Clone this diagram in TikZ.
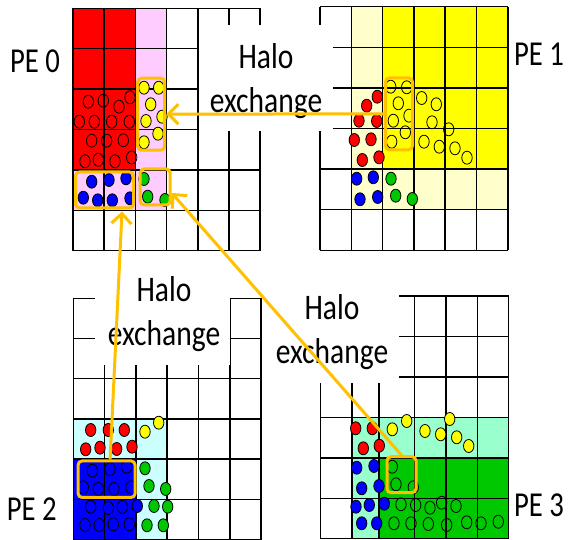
\documentclass[tikz,border=0pt]{standalone}
\usepackage{fontspec}
\setmainfont[FakeStretch=0.82]{Carlito}
\usepackage{tikz}
\usetikzlibrary{arrows.meta}

\definecolor{haloorange}{RGB}{255,192,0}
\definecolor{halopink}{RGB}{255,204,255}
\definecolor{haloyellow}{RGB}{255,255,204}
\definecolor{halocyan}{RGB}{204,255,255}
\definecolor{halomint}{RGB}{153,255,204}
\definecolor{ownred}{RGB}{255,0,0}
\definecolor{ownyellow}{RGB}{255,255,0}
\definecolor{ownblue}{RGB}{0,0,255}
\definecolor{owngreen}{RGB}{0,200,0}

\begin{document}
\begin{tikzpicture}[x=1pt, y=-1pt]
 \tikzstyle{cellline}=[black, line width=1.5pt]
 \tikzstyle{ball}=[draw=black, line width=0.8pt, x radius=5.2pt, y radius=6.5pt]
 \tikzstyle{halobox}=[draw=haloorange, line width=3pt, rounded corners=4pt, inner sep=0pt]
 \tikzstyle{xchg}=[-{Straight Barb[length=10pt, width=20pt]}, haloorange, line width=3pt]
 \tikzstyle{pelabel}=[font=\fontsize{35}{42}\selectfont, anchor=base]
 \tikzstyle{xlabel}=[font=\fontsize{36}{44}\selectfont, align=center]
 \useasboundingbox (0,0) rectangle (568,540);
 %
 % owned cells and halo cells
 \fill[halopink] (135.4,8.3) rectangle (166.6,210.3);
 \fill[halopink] (73,169.9) rectangle (135.4,210.3);
 \fill[ownred] (73,8.3) rectangle (135.4,169.9);
 \fill[haloyellow] (351.3,6.7) rectangle (382.6,209.7);
 \fill[haloyellow] (351.3,169.1) rectangle (507.8,209.7);
 \fill[ownyellow] (382.6,6.7) rectangle (507.8,169.1);
 \fill[halocyan] (73.3,418.9) rectangle (167.2,539.5);
 \fill[ownblue] (73.3,459.1) rectangle (135.9,539.5);
 \fill[halomint] (352,417.5) rectangle (508.6,538.5);
 \fill[owngreen] (379,458) rectangle (508.6,538.5);
 %
 % the four 6x6 grids
 \foreach \gx in {73,104.2,135.4,166.6,197.8,229,260.2} \draw[cellline] (\gx,8.3) -- (\gx,250.7);
 \foreach \gy in {8.3,48.7,89.1,129.5,169.9,210.3,250.7} \draw[cellline] (73,\gy) -- (260.2,\gy);
 \foreach \gx in {320,351.3,382.6,413.9,445.2,476.5,507.8} \draw[cellline] (\gx,6.7) -- (\gx,250.3);
 \foreach \gy in {6.7,47.3,87.9,128.5,169.1,209.7,250.3} \draw[cellline] (320,\gy) -- (507.8,\gy);
 \foreach \gx in {73.3,104.6,135.9,167.2,198.5,229.8,261.1} \draw[cellline] (\gx,298.3) -- (\gx,539.5);
 \foreach \gy in {298.3,338.5,378.7,418.9,459.1,499.3,539.5} \draw[cellline] (73.3,\gy) -- (261.1,\gy);
 \foreach \gx in {320.7,352,379,414.7,446,477.3,508.6} \draw[cellline] (\gx,296) -- (\gx,538.5);
 \foreach \gy in {296,336.5,377,417.5,458,498.3,538.5} \draw[cellline] (320.7,\gy) -- (508.6,\gy);
 %
 % particles of PE 0
 \foreach \x/\y in {88.3/101.7,103.3/100.7,119/106.7,130/97.3,79.3/121.7,94.3/121.7,111.7/121.7,129.3/121.7,
   91.7/140.7,106.7/140.7,123.3/140.3,85/161.3,98.3/159.7,115/161.3,131.7/157.5}
   \draw[ball] (\x,\y) ellipse;
 \foreach \x/\y in {144/87.7,158.7/87.7,150.7/104.3,162/116.7,146/121,158/133.7,144/142.3}
   \filldraw[ball, fill=ownyellow] (\x,\y) ellipse;
 \foreach \x/\y in {91.7/181.7,109/180,126/178.3,83.3/197.7,97.7/200.3,112.3/200.3,130/198.3}
   \filldraw[ball, fill=ownblue] (\x,\y) ellipse;
 \foreach \x/\y in {144/179,147.7/196.7,165/200}
   \filldraw[ball, fill=owngreen] (\x,\y) ellipse;
 % particles of PE 1
 \foreach \x/\y in {377.3/96.7,366.7/105.7,359/120.7,376.7/121,354.3/140,371/139.3,362.3/160,379/157.3}
   \filldraw[ball, fill=ownred] (\x,\y) ellipse;
 \foreach \x/\y in {390.7/86.7,406.7/87.3,398.3/103.3,393.3/120.7,409/115.7,391.7/141.7,405.3/132.3,421.7/98,
   436.3/104.3,432/122.3,448.7/129.3,424/141.7,439.3/146.7,455/148.3,467/157.7}
   \draw[ball] (\x,\y) ellipse;
 \foreach \x/\y in {356.7/178.7,373.3/177.3,360/199.3,377.7/197}
   \filldraw[ball, fill=ownblue] (\x,\y) ellipse;
 \foreach \x/\y in {391/178.7,395.7/195.7,412.3/199}
   \filldraw[ball, fill=owngreen] (\x,\y) ellipse;
 % particles of PE 2
 \foreach \x/\y in {90.7/430,108.3/430,124.3/430,85.7/449.3,100/447.7,116.7/449,132/446.7}
   \filldraw[ball, fill=ownred] (\x,\y) ellipse;
 \foreach \x/\y in {145/431.7,158.7/422.7}
   \filldraw[ball, fill=ownyellow] (\x,\y) ellipse;
 \foreach \x/\y in {92.3/470.7,110/469,126.7/466.7,83.3/487.3,98.3/489,114/489,131/487.3,90.7/506.7,
   108.3/508,122.3/507,137.3/506,85/525,99.3/525,113.3/524.3,129.3/524.3}
   \filldraw[ball, fill=ownblue] (\x,\y) ellipse;
 \foreach \x/\y in {145/468.3,149/486,165.7/489,154/506,167.7/506.7,147/525.3,163.3/525.3}
   \filldraw[ball, fill=owngreen] (\x,\y) ellipse;
 % particles of PE 3
 \foreach \x/\y in {355.7/428.3,372.3/428.3,363.3/448.3,379.3/445.7}
   \filldraw[ball, fill=ownred] (\x,\y) ellipse;
 \foreach \x/\y in {392.3/429.3,406.7/421,425/431,440.7/434.3,449.7/419,456.7/437.3,468.7/446}
   \filldraw[ball, fill=ownyellow] (\x,\y) ellipse;
 \foreach \x/\y in {356.7/467.7,374/466,361.7/488.3,379/486,356/506.7,369.3/505,384.3/503.7,361.7/523.3,376.7/523.3}
   \filldraw[ball, fill=ownblue] (\x,\y) ellipse;
 \foreach \x/\y in {392.3/466.7,396/484.3,413.3/487.3,401/504.3,415.7/505,430/507.7,441.7/502.7,456/506,
   394/523.3,411/523.3,428.3/524,446.7/525,466.7/522.3,481/523.3,498.3/521.7}
   \draw[ball] (\x,\y) ellipse;
 %
 % labels (white gaps cut into the grid lines)
 \fill[white] (199,25) rectangle (333,131.5);
 \fill[white] (95,272) rectangle (230,365);
 \fill[white] (265,286) rectangle (399,383);
 \node[xlabel] (xlab01) at (266,81.3) {Halo\\exchange};
 \node[xlabel] (xlab20) at (164,313.7) {Halo\\exchange};
 \node[xlabel] (xlab30) at (332,332.3) {Halo\\exchange};
 \node[pelabel] (pe0) at (35,72.3) {PE 0};
 \node[pelabel] (pe1) at (539,66) {PE 1};
 \node[pelabel] (pe2) at (31.7,520.7) {PE 2};
 \node[pelabel] (pe3) at (539,516.7) {PE 3};
 %
 % halo regions
 \node[halobox, minimum width=27pt, minimum height=72pt] (h0yel) at (151.2,114.2) {};
 \node[halobox, minimum width=58pt, minimum height=36pt] (h0blu) at (104.5,190) {};
 \node[halobox, minimum width=30pt, minimum height=36pt] (h0grn) at (155.2,187) {};
 \node[halobox, minimum width=27pt, minimum height=72pt] (h1) at (399,113.8) {};
 \node[halobox, minimum width=57pt, minimum height=36.5pt] (h2) at (106.6,479.2) {};
 \node[halobox, minimum width=29pt, minimum height=36pt] (h3) at (401.5,474.7) {};
 %%
 \draw[xchg] (h1.west) -- (h0yel.east);
 \draw[xchg] ([xshift=3.5pt]h2.north) -- ([xshift=17.5pt, yshift=-2pt]h0blu.south);
 \draw[xchg] (h3.north) -- ([yshift=-6pt]h0grn.east);
\end{tikzpicture}
\end{document}
